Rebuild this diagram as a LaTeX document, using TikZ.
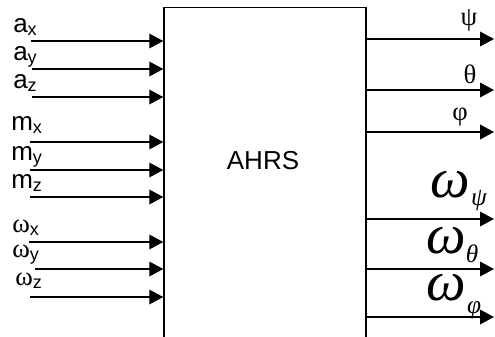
\documentclass[tikz,border=0pt]{standalone}
\usepackage{fontspec}
\setmainfont{Liberation Sans}
\newfontfamily\grk{Liberation Serif}
\usetikzlibrary{arrows.meta}
\newcommand{\sbx}[1]{\raisebox{-2.5pt}{\fontspec{Liberation Sans}\fontsize{13.5}{13.5}\selectfont #1}}
\newcommand{\sbw}[2]{\raisebox{#1}{\fontsize{19}{19}\selectfont #2}}
\tikzset{
  arr/.style={line width=1pt, -{Triangle[length=10.5pt,width=11pt]}},
  lbl/.style={inner sep=0pt, anchor=base west, font=\fontsize{19.5}{19.5}\selectfont},
  glbl/.style={inner sep=0pt, anchor=base west, font=\grk\fontsize{20}{20}\selectfont},
  olbl/.style={inner sep=0pt, anchor=base, font=\grk\fontsize{20}{20}\selectfont},
  bigw/.style={inner sep=0pt, anchor=base west, text height=18pt, text depth=7pt, font=\grk\itshape\fontsize{42}{42}\selectfont},
  blk/.style={draw, line width=1.1pt, inner sep=0pt, minimum width=202*0.75pt, minimum height=340*0.75pt},
}
\begin{document}
\begin{tikzpicture}[x=0.75pt,y=-0.75pt]
\useasboundingbox (0,0) rectangle (495,336);
\clip (0,0) rectangle (495,336);
\node[blk] (box) at (265,177.5) {};
\node[inner sep=0pt, anchor=base, font=\fontsize{19.5}{19.5}\selectfont] (ahrs) at (263,169) {AHRS};
% inputs
\node[lbl] (lax) at (13,32) {a\sbx{x}};
\node[lbl] (lay) at (13,60) {a\sbx{y}};
\node[lbl] (laz) at (13,88) {a\sbx{z}};
\node[lbl] (lmx) at (11,130) {m\sbx{x}};
\node[lbl] (lmy) at (11,160) {m\sbx{y}};
\node[lbl] (lmz) at (11,188) {m\sbx{z}};
\node[glbl] (lwx) at (12,232) {ω\sbx{x}};
\node[glbl] (lwy) at (12,257) {ω\sbx{y}};
\node[glbl] (lwz) at (15,285) {ω\sbx{z}};
\foreach \n/\x/\y in {iax/31/41, iay/32/69, iaz/32/97, imx/30/142, imy/30/170, imz/30/197, iwx/29/242, iwy/35/269, iwz/30/297}{
  \coordinate (\n) at (\x,\y);
  \draw[arr] (\n) -- (\n -| box.west);
}
% outputs
\foreach \n/\y in {opsi/39, oth/90, ophi/132, owpsi/219, owth/269, owphi/317}{
  \coordinate (\n) at (494,\y);
  \draw[arr] (\n -| box.east) -- (\n);
}
\node[olbl] (lpsi) at (469,25) {ψ};
\node[olbl] (lth) at (470,83) {θ};
\node[olbl] (lphi) at (460,120) {φ};
\node[bigw] (w1) at (430,197) {ω\kern1pt\sbw{-6pt}{ψ}};
\node[bigw] (w2) at (426,253) {ω\kern0pt\sbw{-6.75pt}{θ}};
\node[bigw] (w3) at (426,300) {ω\kern1pt\sbw{-9.75pt}{φ}};
\end{tikzpicture}
\end{document}
